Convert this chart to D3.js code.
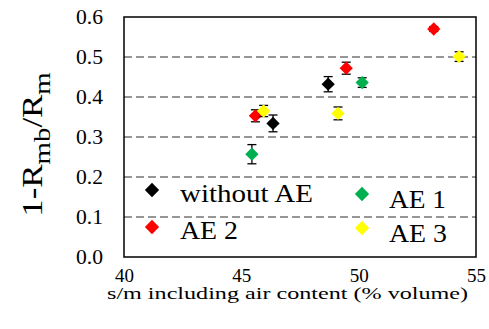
<!DOCTYPE html>
<html>
<head>
<meta charset="utf-8">
<script src="https://cdn.jsdelivr.net/npm/d3@7"></script>
<style>
  body { margin: 0; background: #fff; }
</style>
</head>
<body>
<svg width="489" height="329" font-family="'Liberation Serif', 'Times New Roman', serif"></svg>
<script>
let svg = d3.select("svg")
let serif = "'Liberation Serif', 'Times New Roman', serif"

// data: [s/m %, 1-Rmb/Rm, error]
let withoutAE = [[46.35, 0.334, 0.021], [48.7, 0.432, 0.019]]
let ae1 = [[45.45, 0.257, 0.024], [50.15, 0.436, 0.012]]
let ae2 = [[45.6, 0.353, 0.015], [49.47, 0.472, 0.015], [53.2, 0.570, 0.006]]
let ae3 = [[45.95, 0.365, 0.014], [49.12, 0.359, 0.016], [54.28, 0.501, 0.012]]

let seriesNames = ["without AE", "AE 1", "AE 2", "AE 3"]
let seriesColors = ["#000000", "#00b050", "#ff0000", "#ffff00"]
let seriesData = [withoutAE, ae1, ae2, ae3]

let xTicks = [40, 45, 50, 55]
let yTicks = [0, 0.1, 0.2, 0.3, 0.4, 0.5, 0.6]

let pLeft = 124, pRight = 476, pTop = 17, pBottom = 257

let x = d3.scaleLinear().domain([40, 55]).range([pLeft, pRight])
let y = d3.scaleLinear().domain([0, 0.6]).range([pBottom, pTop])

// gridlines
svg.append("g")
  .selectAll("line")
  .data(yTicks.filter(d => d > 0 && d < 0.6))
  .enter().append("line")
  .attr("x1", pLeft).attr("x2", pRight)
  .attr("y1", d => y(d)).attr("y2", d => y(d))
  .attr("stroke", "#969696")
  .attr("stroke-width", 2)
  .attr("stroke-dasharray", "8,4")

// frame
svg.append("rect")
  .attr("x", pLeft).attr("y", pTop)
  .attr("width", pRight - pLeft).attr("height", pBottom - pTop)
  .attr("fill", "none").attr("stroke", "#000").attr("stroke-width", 1.5)

// tick labels
let yAxis = d3.axisLeft(y).tickValues(yTicks).tickFormat(d3.format(".1f")).tickSize(0).tickPadding(21)
let yAxisG = svg.append("g").attr("transform", `translate(${pLeft},0)`).call(yAxis)
yAxisG.attr("font-family", serif).attr("font-size", 20)
yAxisG.select(".domain").remove()
yAxisG.selectAll("text").attr("fill", "#000").attr("textLength", 27).attr("lengthAdjust", "spacingAndGlyphs")

let xAxis = d3.axisBottom(x).tickValues(xTicks).tickSize(0).tickPadding(12)
let xAxisG = svg.append("g").attr("transform", `translate(0,${pBottom})`).call(xAxis)
xAxisG.attr("font-family", serif).attr("font-size", 19)
xAxisG.select(".domain").remove()
xAxisG.selectAll("text").attr("fill", "#000")

svg.append("text")
  .attr("x", 287.5).attr("y", 299)
  .attr("text-anchor", "middle")
  .attr("font-size", 16.5)
  .attr("textLength", 361).attr("lengthAdjust", "spacingAndGlyphs")
  .text("s/m including air content (% volume)")

let yTitle = svg.append("text")
  .attr("text-anchor", "middle")
  .attr("font-size", 29)
yTitle.append("tspan").text("1-R")
yTitle.append("tspan").attr("font-size", 24).attr("dy", 8).text("mb")
yTitle.append("tspan").attr("dy", -8).text("/R")
yTitle.append("tspan").attr("font-size", 24).attr("dy", 8).text("m")
let tLen = yTitle.node().getBBox().width
yTitle.attr("transform", `translate(42,144.5) rotate(-90) scale(${145 / tLen},1)`)

let diamond = d3.symbol().type(d3.symbolDiamond2).size(112)

// points with error bars
seriesData.forEach((pts, i) => {
  let g = svg.append("g")
  let eb = g.selectAll(".eb").data(pts).enter().append("g")
  eb.append("line")
    .attr("x1", d => x(d[0])).attr("x2", d => x(d[0]))
    .attr("y1", d => y(d[1] - d[2])).attr("y2", d => y(d[1] + d[2]))
    .attr("stroke", "#000").attr("stroke-width", 1.3)
  eb.append("line")
    .attr("x1", d => x(d[0]) - 4.5).attr("x2", d => x(d[0]) + 4.5)
    .attr("y1", d => y(d[1] + d[2])).attr("y2", d => y(d[1] + d[2]))
    .attr("stroke", "#000").attr("stroke-width", 1.3)
  eb.append("line")
    .attr("x1", d => x(d[0]) - 4.5).attr("x2", d => x(d[0]) + 4.5)
    .attr("y1", d => y(d[1] - d[2])).attr("y2", d => y(d[1] - d[2]))
    .attr("stroke", "#000").attr("stroke-width", 1.3)
  g.selectAll("path").data(pts).enter().append("path")
    .attr("d", diamond)
    .attr("transform", d => `translate(${x(d[0])},${y(d[1])})`)
    .attr("fill", seriesColors[i])
})

// legend
let legendPos = [[152, 190, 180, 202, 133], [362, 194, 389, 208, 57], [152, 227, 180, 239, 58], [362, 228, 389, 242, 58]]
let legend = svg.append("g")
  .selectAll("g")
  .data(seriesNames)
  .enter().append("g")
legend.append("path")
  .attr("d", d3.symbol().type(d3.symbolDiamond2).size(130))
  .attr("transform", (d, i) => `translate(${legendPos[i][0]},${legendPos[i][1]})`)
  .attr("fill", (d, i) => seriesColors[i])
legend.append("text")
  .attr("x", (d, i) => legendPos[i][2])
  .attr("y", (d, i) => legendPos[i][3])
  .attr("font-size", 25)
  .attr("textLength", (d, i) => legendPos[i][4])
  .attr("lengthAdjust", "spacingAndGlyphs")
  .text(d => d)
</script>
</body>
</html>
